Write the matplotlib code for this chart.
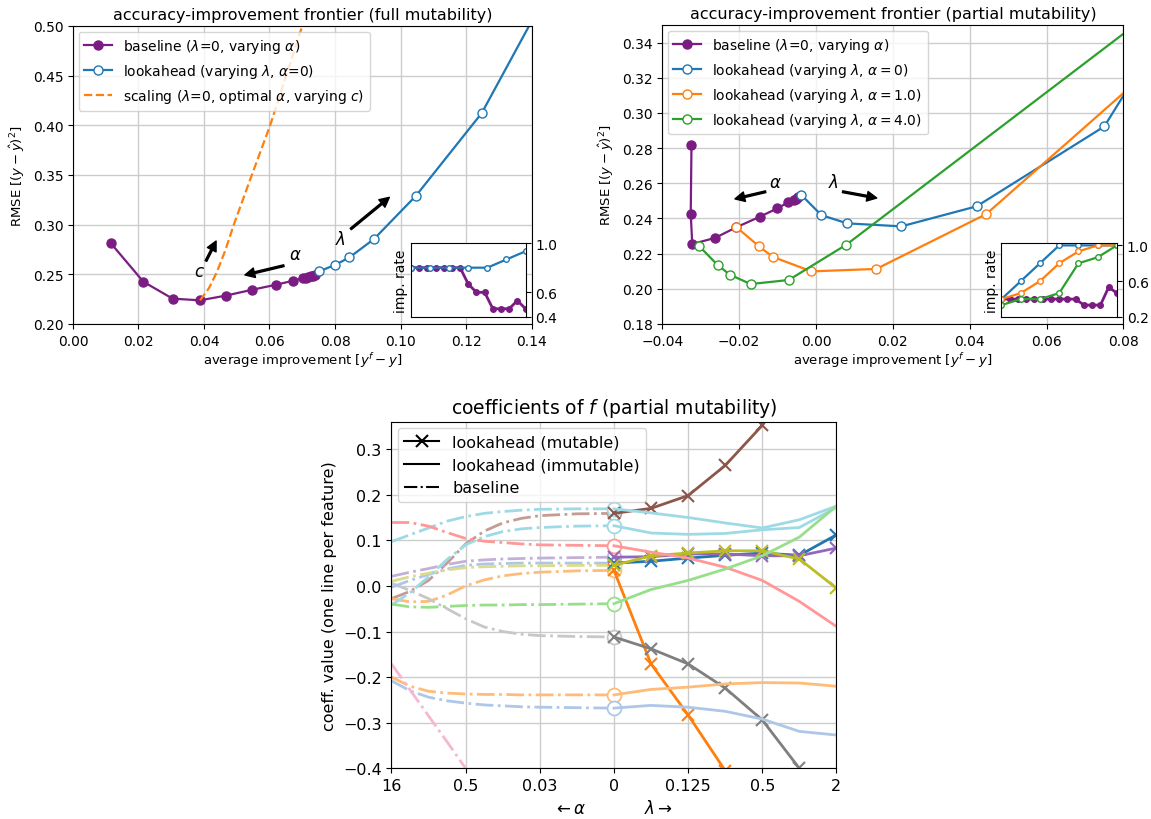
import numpy as np
import matplotlib
matplotlib.use("Agg")
import matplotlib.pyplot as plt
from matplotlib.transforms import blended_transform_factory

# ---------------- frontier data: full mutability ----------------
base_full_x = [0.0115, 0.0215, 0.0304, 0.0388, 0.0466, 0.0548, 0.0620, 0.0673,
               0.0703, 0.0712, 0.0719, 0.0726, 0.0733, 0.0739]
base_full_y = [0.2815, 0.2425, 0.2255, 0.2238, 0.2285, 0.2345, 0.2395, 0.2436,
               0.2463, 0.2467, 0.2472, 0.2478, 0.2484, 0.2490]
look_full_x = [0.0752, 0.0800, 0.0844, 0.0919, 0.1047, 0.1248, 0.1450]
look_full_y = [0.2530, 0.2594, 0.2670, 0.2855, 0.3290, 0.4123, 0.5350]
scale_full_x = [0.0388, 0.0415, 0.0439, 0.0465, 0.0490, 0.0545, 0.0602, 0.0650, 0.0698, 0.0720]
scale_full_y = [0.2238, 0.2360, 0.2520, 0.2740, 0.2990, 0.3490, 0.4000, 0.4490, 0.4980, 0.5200]

rate_base_full = [0.8, 0.8, 0.8, 0.8, 0.8, 0.8, 0.8, 0.667, 0.6, 0.6,
                  0.467, 0.467, 0.467, 0.533, 0.467]
rate_look_full = [0.8, 0.8, 0.8, 0.8, 0.8, 0.867, 0.933]

# ---------------- frontier data: partial mutability ----------------
base_part_x = [-0.0324, -0.0326, -0.0322, -0.0263, -0.0207, -0.0146, -0.0101,
               -0.0073, -0.0058, -0.0052, -0.0047]
base_part_y = [0.2819, 0.2425, 0.2255, 0.2289, 0.2350, 0.2410, 0.2457,
               0.2491, 0.2505, 0.2512, 0.2520]
look_a0_x = [-0.0038, 0.0014, 0.0081, 0.0222, 0.0418, 0.0750, 0.0900]
look_a0_y = [0.2533, 0.2419, 0.2372, 0.2355, 0.2469, 0.2923, 0.3450]
look_a1_x = [-0.0207, -0.0148, -0.0113, -0.0012, 0.0157, 0.0443, 0.0900]
look_a1_y = [0.2350, 0.2241, 0.2182, 0.2099, 0.2113, 0.2425, 0.3306]
look_a4_x = [-0.0305, -0.0256, -0.0224, -0.0170, -0.0071, 0.0079, 0.0950]
look_a4_y = [0.2245, 0.2135, 0.2080, 0.2027, 0.2050, 0.2251, 0.3700]

rate_base_part = [0.4, 0.4, 0.4, 0.4, 0.4, 0.4, 0.4, 0.4, 0.4, 0.4,
                  0.333, 0.333, 0.333, 0.533, 0.467]
rate_a0 = [0.4, 0.6, 0.8, 1.0, 1.0, 1.0, 1.0]
rate_a1 = [0.4, 0.467, 0.6, 0.8, 0.933, 1.0, 1.0]
rate_a4 = [0.333, 0.4, 0.4, 0.467, 0.8, 0.867, 1.0]

# ---------------- coefficient paths (partial mutability) ----------------
alpha_pos = [-6, -5.5, -5, -4.5, -4, -3.5, -3, -2.5, -2, -1, 0]
lambda_pos = [0, 1, 2, 3, 4, 5, 6]
tick_pos = [-6, -4, -2, 0, 2, 4, 6]
tick_labels = ['16', '0.5', '0.03', '0', '0.125', '0.5', '2']

coef_names = ['brown', 'orange', 'gray', 'blue', 'purple', 'olive',
              'cyan1', 'cyan2', 'red', 'green', 'orange2', 'blue2', 'pink']
coef_mutable = [True, True, True, True, True, True,
                False, False, False, False, False, False, False]
coef_color = ['#8c564b', '#ff7f0e', '#7f7f7f', '#1f77b4', '#9467bd', '#bcbd22',
              '#9edae5', '#9edae5', '#ff9896', '#98df8a', '#ffbb78', '#aec7e8', '#f7b6d2']
coef_base_color = ['#c49c94', '#ffbb78', '#c7c7c7', '#aec7e8', '#c5b0d5', '#dbdb8d',
                   '#9edae5', '#9edae5', '#ff9896', '#98df8a', '#ffbb78', '#aec7e8', '#f7b6d2']

coef_baseline = [
    [-0.028, -0.012, 0.012, 0.050, 0.092, 0.120, 0.138, 0.148, 0.154, 0.158, 0.159],
    [-0.028, -0.035, -0.034, -0.020, 0.000, 0.013, 0.022, 0.027, 0.030, 0.033, 0.034],
    [0.006, -0.010, -0.028, -0.050, -0.072, -0.090, -0.100, -0.106, -0.109, -0.111, -0.112],
    [-0.003, 0.012, 0.025, 0.037, 0.045, 0.048, 0.049, 0.050, 0.050, 0.050, 0.050],
    [0.021, 0.030, 0.038, 0.047, 0.054, 0.057, 0.059, 0.060, 0.061, 0.062, 0.063],
    [0.010, 0.020, 0.028, 0.035, 0.040, 0.042, 0.043, 0.044, 0.044, 0.045, 0.045],
    [0.097, 0.112, 0.127, 0.142, 0.152, 0.159, 0.163, 0.166, 0.168, 0.169, 0.169],
    [-0.042, -0.015, 0.020, 0.058, 0.090, 0.108, 0.119, 0.125, 0.128, 0.131, 0.132],
    [0.139, 0.139, 0.131, 0.117, 0.104, 0.098, 0.095, 0.092, 0.090, 0.089, 0.088],
    [-0.040, -0.046, -0.047, -0.045, -0.043, -0.042, -0.042, -0.041, -0.041, -0.040, -0.039],
    [-0.200, -0.220, -0.231, -0.235, -0.237, -0.238, -0.238, -0.239, -0.239, -0.239, -0.239],
    [-0.208, -0.230, -0.244, -0.252, -0.257, -0.261, -0.263, -0.265, -0.266, -0.267, -0.268],
    [-0.171, -0.228, -0.285, -0.342, -0.400, -0.460, -0.520, -0.570, -0.600, -0.620, -0.630],
]
coef_lookahead = [
    [0.159, 0.170, 0.198, 0.264, 0.352, 0.470, 0.620],
    [0.034, -0.171, -0.283, -0.405, -0.530, -0.660, -0.800],
    [-0.112, -0.138, -0.171, -0.224, -0.294, -0.400, -0.550],
    [0.050, 0.054, 0.061, 0.067, 0.072, 0.067, 0.112],
    [0.063, 0.064, 0.070, 0.070, 0.066, 0.066, 0.083],
    [0.045, 0.066, 0.072, 0.077, 0.077, 0.059, -0.005],
    [0.169, 0.160, 0.150, 0.138, 0.127, 0.145, 0.175],
    [0.132, 0.116, 0.113, 0.115, 0.123, 0.128, 0.172],
    [0.088, 0.074, 0.061, 0.041, 0.012, -0.034, -0.089],
    [-0.039, -0.008, 0.012, 0.037, 0.066, 0.107, 0.175],
    [-0.239, -0.227, -0.222, -0.215, -0.212, -0.213, -0.220],
    [-0.268, -0.262, -0.266, -0.275, -0.292, -0.319, -0.327],
    [-0.630, -0.640, -0.650, -0.660, -0.670, -0.680, -0.690],
]

PURPLE = '#7a1c82'
BLUE = '#1f77b4'
ORANGE = '#ff7f0e'
GREEN = '#2ca02c'

plt.rcParams['font.family'] = ['DejaVu Sans']
fig = plt.figure(figsize=(11.51, 8.2), dpi=100)


def fmt(v, digits):
    """Tick text with a proper minus sign."""
    if abs(v) < 1e-9:
        v = 0.0
    s = '%.*f' % (digits, v)
    return s.replace('-', '\u2212')


def arrow(ax, tail, head):
    ax.annotate('', xy=head, xytext=tail,
                arrowprops=dict(facecolor='black', edgecolor='black',
                                width=1.3, headwidth=7, headlength=7, shrink=0))


def style_inset(ax, ylim, yticks):
    ax.set_xlim(0, 1)
    ax.set_ylim(*ylim)
    ax.set_xticks([])
    ax.yaxis.tick_right()
    ax.set_yticks(yticks)
    ax.set_yticklabels([fmt(t, 1) for t in yticks])
    ax.tick_params(labelsize=10)
    ax.set_ylabel('imp. rate', fontsize=10, labelpad=2)


# ---------------- top left ----------------
ax1 = fig.add_axes([0.0634, 0.6037, 0.3984, 0.3634])
ax1.grid(True, color='#cccccc', lw=1)
ax1.set_axisbelow(True)
ax1.plot(base_full_x, base_full_y, '-o', color=PURPLE, ms=6.5, lw=1.6,
         label=r'baseline ($\lambda$=0, varying $\alpha$)')
ax1.plot(look_full_x, look_full_y, '-o', color=BLUE, mfc='white', ms=6.5, lw=1.6,
         label=r'lookahead (varying $\lambda$, $\alpha$=0)')
ax1.plot(scale_full_x, scale_full_y, '--', color=ORANGE, lw=1.6,
         label=r'scaling ($\lambda$=0, optimal $\alpha$, varying $c$)')
ax1.set_xlim(0, 0.14)
ax1.set_ylim(0.20, 0.50)
xt1 = np.arange(0, 0.141, 0.02)
ax1.set_xticks(xt1)
ax1.set_xticklabels([fmt(t, 2) for t in xt1])
yt1 = np.arange(0.20, 0.501, 0.05)
ax1.set_yticks(yt1)
ax1.set_yticklabels([fmt(t, 2) for t in yt1])
ax1.tick_params(labelsize=10)
ax1.set_title('accuracy-improvement frontier (full mutability)', fontsize=11.5, pad=5)
ax1.set_xlabel(r'average improvement [$y^f - y$]', fontsize=9.5, labelpad=2)
ax1.set_ylabel(r'RMSE [$(y - \hat{y})^2$]', fontsize=9.5)
ax1.legend(loc='upper left', fontsize=10, handlelength=2.0, borderaxespad=0.4)
arrow(ax1, (0.0406, 0.2634), (0.0437, 0.2835))
ax1.text(0.0385, 0.2530, r'$c$', fontsize=12, ha='center', va='center')
arrow(ax1, (0.0644, 0.2587), (0.0525, 0.2493))
ax1.text(0.0678, 0.2704, r'$\alpha$', fontsize=12, ha='center', va='center')
arrow(ax1, (0.0848, 0.2956), (0.0966, 0.3275))
ax1.text(0.0818, 0.2855, r'$\lambda$', fontsize=12, ha='center', va='center')

ins1 = fig.add_axes([0.3571, 0.6122, 0.0995, 0.0902])
ins1.plot(np.linspace(0, 1, len(rate_base_full)), rate_base_full, '-o', color=PURPLE,
          ms=4, lw=2)
ins1.plot(np.linspace(0, 1, len(rate_look_full)), rate_look_full, '-o', color=BLUE,
          mfc='white', ms=4, lw=1.6)
style_inset(ins1, (0.4, 1.0), [0.4, 0.6, 1.0])

# ---------------- top right ----------------
ax2 = fig.add_axes([0.5754, 0.6037, 0.4007, 0.3646])
ax2.grid(True, color='#cccccc', lw=1)
ax2.set_axisbelow(True)
ax2.plot(base_part_x, base_part_y, '-o', color=PURPLE, ms=6.5, lw=1.6,
         label=r'baseline ($\lambda$=0, varying $\alpha$)')
ax2.plot(look_a0_x, look_a0_y, '-o', color=BLUE, mfc='white', ms=6.5, lw=1.6,
         label=r'lookahead (varying $\lambda$, $\alpha=0$)')
ax2.plot(look_a1_x, look_a1_y, '-o', color=ORANGE, mfc='white', ms=6.5, lw=1.6,
         label=r'lookahead (varying $\lambda$, $\alpha=1.0$)')
ax2.plot(look_a4_x, look_a4_y, '-o', color=GREEN, mfc='white', ms=6.5, lw=1.6,
         label=r'lookahead (varying $\lambda$, $\alpha=4.0$)')
ax2.set_xlim(-0.04, 0.08)
ax2.set_ylim(0.18, 0.35)
xt2 = np.arange(-0.04, 0.081, 0.02)
ax2.set_xticks(xt2)
ax2.set_xticklabels([fmt(t, 2) for t in xt2])
yt2 = np.arange(0.18, 0.341, 0.02)
ax2.set_yticks(yt2)
ax2.set_yticklabels([fmt(t, 2) for t in yt2])
ax2.tick_params(labelsize=10)
ax2.set_title('accuracy-improvement frontier (partial mutability)', fontsize=11.5, pad=5)
ax2.set_xlabel(r'average improvement [$y^f - y$]', fontsize=9.5, labelpad=2)
ax2.set_ylabel(r'RMSE [$(y - \hat{y})^2$]', fontsize=9.5)
ax2.legend(loc='upper left', fontsize=10, handlelength=2.0, borderaxespad=0.4)
arrow(ax2, (-0.0131, 0.2552), (-0.0211, 0.2511))
ax2.text(-0.0107, 0.2605, r'$\alpha$', fontsize=12, ha='center', va='center')
arrow(ax2, (0.0069, 0.2552), (0.0158, 0.2516))
ax2.text(0.0044, 0.2605, r'$\lambda$', fontsize=12, ha='center', va='center')

ins2 = fig.add_axes([0.8701, 0.6122, 0.1003, 0.0906])
ins2.plot(np.linspace(0, 1, len(rate_base_part)), rate_base_part, '-o', color=PURPLE,
          ms=4, lw=2)
ins2.plot(np.linspace(0, 1, len(rate_a0)), rate_a0, '-o', color=BLUE, mfc='white', ms=4, lw=1.6)
ins2.plot(np.linspace(0, 1, len(rate_a1)), rate_a1, '-o', color=ORANGE, mfc='white', ms=4, lw=1.6)
ins2.plot(np.linspace(0, 1, len(rate_a4)), rate_a4, '-o', color=GREEN, mfc='white', ms=4, lw=1.6)
style_inset(ins2, (0.2, 1.03), [0.2, 0.6, 1.0])

# ---------------- bottom: coefficient paths ----------------
ax3 = fig.add_axes([0.3401, 0.0618, 0.3866, 0.4227])
ax3.grid(True, color='#cccccc', lw=1)
ax3.set_axisbelow(True)
for i in range(len(coef_names)):
    ax3.plot(alpha_pos, coef_baseline[i], '-.', color=coef_base_color[i], lw=2,
             marker='o', markevery=[len(alpha_pos) - 1], ms=10, mfc='white', mew=1.3)
for i in range(len(coef_names)):
    if coef_mutable[i]:
        ax3.plot(lambda_pos, coef_lookahead[i], '-', color=coef_color[i], lw=2,
                 marker='x', ms=9, mew=1.5)
    else:
        ax3.plot(lambda_pos, coef_lookahead[i], '-', color=coef_color[i], lw=2)
ax3.set_xlim(-6, 6)
ax3.set_ylim(-0.4, 0.36)
ax3.set_xticks(tick_pos)
ax3.set_xticklabels(tick_labels)
yt3 = np.arange(-0.4, 0.31, 0.1)
ax3.set_yticks(yt3)
ax3.set_yticklabels([fmt(t, 1) for t in yt3])
ax3.tick_params(labelsize=11.5)
ax3.set_title(r'coefficients of $f$ (partial mutability)', fontsize=13.5, pad=6)
ax3.set_ylabel('coeff. value (one line per feature)', fontsize=11.5)
tr = blended_transform_factory(ax3.transData, ax3.transAxes)
ax3.text(-1.2, -0.115, r'$\leftarrow\alpha$', transform=tr, ha='center', va='center', fontsize=12)
ax3.text(1.2, -0.115, r'$\lambda\rightarrow$', transform=tr, ha='center', va='center', fontsize=12)
h1, = ax3.plot([], [], '-', color='black', marker='x', ms=9, mew=1.5, lw=1.5)
h2, = ax3.plot([], [], '-', color='black', lw=1.5)
h3, = ax3.plot([], [], '-.', color='black', lw=1.5)
ax3.legend([h1, h2, h3], ['lookahead (mutable)', 'lookahead (immutable)', 'baseline'],
           loc='upper left', fontsize=11.5, handlelength=2.2, borderaxespad=0.4)

fig.savefig('out.png', dpi=100)
